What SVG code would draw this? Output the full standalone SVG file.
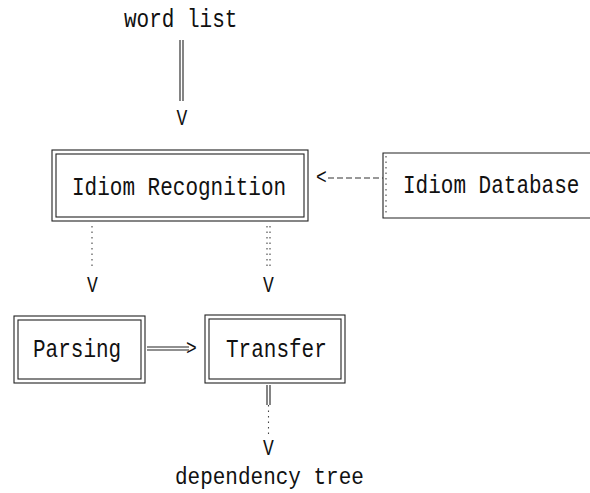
<svg xmlns="http://www.w3.org/2000/svg" width="590" height="493" viewBox="0 0 590 493">
  <style>
    .lbl { font-family: "Liberation Mono", "DejaVu Sans Mono", monospace; font-size: 21px; fill: #111; }
    .head { font-family: "Liberation Mono", "DejaVu Sans Mono", monospace; font-size: 18px; fill: #111; }
    .box { fill: none; stroke: #222; stroke-width: 1.1; }
    .edge { fill: none; stroke: #222; stroke-width: 1.1; }
    .dot { fill: none; stroke: #444; stroke-width: 1.1; stroke-dasharray: 1.5 4; }
    .dash { fill: none; stroke: #333; stroke-width: 1.1; stroke-dasharray: 6 3; }
  </style>
  <rect width="590" height="493" fill="#fff"/>

  <!-- free-standing input / output labels (glyphs stretched to a tall plotter look) -->
  <g id="word-list">
    <text class="lbl" transform="translate(124,27) scale(1,1.2)">word list</text>
  </g>
  <g id="dependency-tree">
    <text class="lbl" transform="translate(175,484) scale(1,1.15)">dependency tree</text>
  </g>

  <!-- processing stages -->
  <g id="idiom-recognition">
    <rect class="box" x="52" y="150" width="256" height="71"/>
    <rect class="box" x="56" y="154" width="248" height="63"/>
    <text class="lbl" transform="translate(72,195) scale(1,1.2)">Idiom Recognition</text>
  </g>
  <g id="idiom-database">
    <path class="box" d="M590,153 H383 V218 H590"/>
    <path class="dot" d="M386,156 V215"/>
    <text class="lbl" transform="translate(403,193) scale(1,1.2)">Idiom Database</text>
  </g>
  <g id="parsing">
    <rect class="box" x="14" y="316" width="131" height="67"/>
    <rect class="box" x="18" y="320" width="123" height="59"/>
    <text class="lbl" transform="translate(33,357) scale(1,1.2)">Parsing</text>
  </g>
  <g id="transfer">
    <rect class="box" x="205" y="315" width="140" height="68"/>
    <rect class="box" x="209" y="319" width="132" height="60"/>
    <text class="lbl" transform="translate(226,357) scale(1,1.2)">Transfer</text>
  </g>

  <!-- connectors drawn as character-art arrows -->
  <g id="connectors">
    <!-- word list -> Idiom Recognition -->
    <path class="edge" d="M180,40 V101 M183,40 V101"/>
    <text class="head" transform="translate(176.5,125) scale(1,1.2)">V</text>

    <!-- Idiom Database -> Idiom Recognition -->
    <path class="dash" d="M328,178 H383"/>
    <text class="head" transform="translate(316,184) scale(1,1.2)">&lt;</text>

    <!-- Idiom Recognition -> Parsing -->
    <path class="dot" d="M92,226 V268"/>
    <text class="head" transform="translate(87,292) scale(1,1.2)">V</text>

    <!-- Idiom Recognition -> Transfer -->
    <path class="dot" d="M267,226 V268 M270,226 V268"/>
    <text class="head" transform="translate(263,292) scale(1,1.2)">V</text>

    <!-- Parsing -> Transfer -->
    <path class="edge" d="M147,347 H189 M147,350 H189"/>
    <text class="head" transform="translate(186,355) scale(1,1.2)">&gt;</text>

    <!-- Transfer -> dependency tree -->
    <path class="edge" d="M267,385 V405 M270,385 V405"/>
    <path class="dot" d="M268.5,405 V437"/>
    <text class="head" transform="translate(263,455) scale(1,1.2)">V</text>
  </g>
</svg>
